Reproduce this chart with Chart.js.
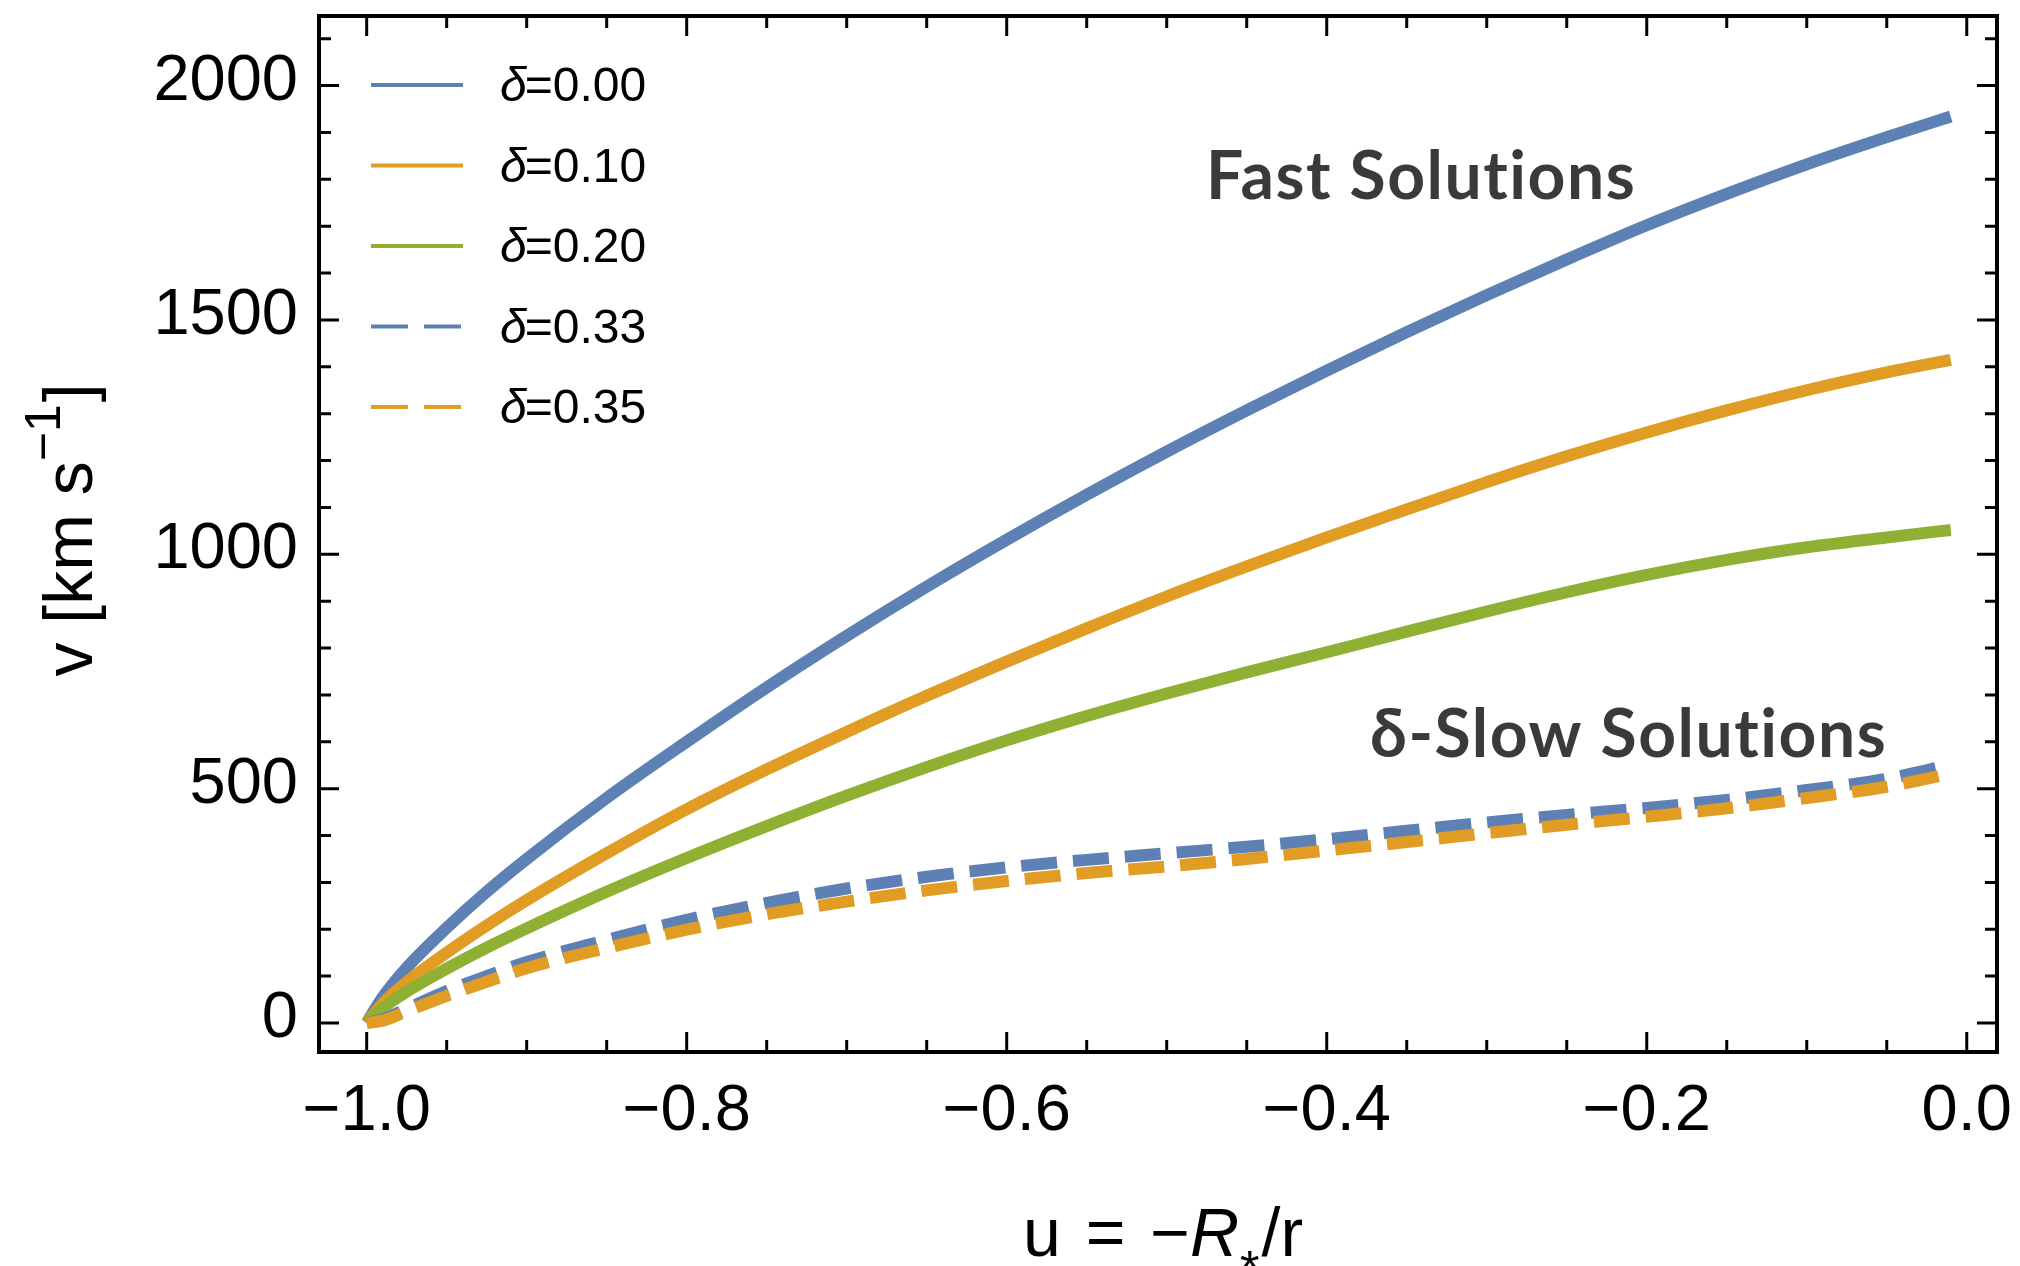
<!DOCTYPE html>
<html><head><meta charset="utf-8">
<script src="https://cdn.jsdelivr.net/npm/chart.js@4.4.1/dist/chart.umd.min.js"></script>
<style>html,body{margin:0;padding:0;background:#fff;overflow:hidden}canvas{display:block}</style>
</head><body>
<canvas id="c" width="2020" height="1266"></canvas>
<script>
// ---- data ----
const uValues   = [-1.0, -0.99, -0.975, -0.95, -0.925, -0.9, -0.85, -0.8, -0.75, -0.7, -0.65, -0.6, -0.55, -0.5, -0.45, -0.4, -0.35, -0.3, -0.25, -0.2, -0.15, -0.1, -0.05, -0.01];
const vDelta000 = [0, 55, 118, 203, 280, 350, 480, 600, 716, 826, 931, 1031, 1127, 1219, 1307, 1392, 1474, 1553, 1629, 1702, 1769, 1832, 1890, 1934];
const vDelta010 = [0, 41, 87, 150, 208, 262, 362, 456, 541, 621, 698, 771, 842, 910, 974, 1036, 1096, 1154, 1209, 1260, 1307, 1350, 1388, 1415];
const vDelta020 = [0, 32, 67, 116, 161, 202, 280, 352, 420, 485, 546, 603, 655, 703, 748, 791, 835, 878, 919, 956, 988, 1015, 1036, 1052];
const vDelta033 = [0, 8, 30, 68, 100, 130, 177, 220, 256, 287, 312, 332, 348, 362, 376, 392, 410, 428, 444, 459, 476, 497, 521, 551];
const vDelta035 = [0, 5, 25, 58, 88, 117, 160, 199, 232, 259, 283, 303, 320, 334, 350, 368, 386, 405, 423, 440, 458, 480, 504, 532];

const seriesLabels = ['δ=0.00', 'δ=0.10', 'δ=0.20', 'δ=0.33', 'δ=0.35'];
const seriesColors = ['#5E81B5', '#E19C24', '#8FB032', '#5E81B5', '#E19C24'];
const seriesDashed = [false, false, false, true, true];

const xTicks      = [-1.0, -0.8, -0.6, -0.4, -0.2, 0.0];
const xTickLabels = ['−1.0', '−0.8', '−0.6', '−0.4', '−0.2', '0.0'];
const xMinorTicks = [-0.95, -0.9, -0.85, -0.75, -0.7, -0.65, -0.55, -0.5, -0.45, -0.35, -0.3, -0.25, -0.15, -0.1, -0.05];
const yTicks      = [0, 500, 1000, 1500, 2000];
const yTickLabels = ['0', '500', '1000', '1500', '2000'];
const yMinorTicks = [100, 200, 300, 400, 600, 700, 800, 900, 1100, 1200, 1300, 1400, 1600, 1700, 1800, 1900, 2100];

const annotationTexts = ['Fast Solutions', 'δ-Slow Solutions'];
const annotationAnchors = [[-0.4754, 1758], [-0.3729, 567]]; // data coords (u, v) of left baseline

// ---- styling ----
const FONT = "'Liberation Sans', Arial, Helvetica, sans-serif";
const TICK_SIZE = 65;

const seriesValues = [vDelta000, vDelta010, vDelta020, vDelta033, vDelta035];
const datasets = seriesValues.map((vals, i) => ({
  label: seriesLabels[i],
  data: uValues.map((u, j) => ({ x: u, y: vals[j] })),
  borderColor: seriesColors[i],
  backgroundColor: seriesColors[i],
  borderWidth: 12,
  borderDash: seriesDashed[i] ? [36, 16] : [],
  borderCapStyle: 'butt',
  borderJoinStyle: 'round',
  pointRadius: 0,
  fill: false,
  cubicInterpolationMode: 'monotone',
  order: seriesValues.length - i
}));

function drawRich(ctx, segs, x, y) {
  let w = 0;
  for (const g of segs) { ctx.font = g.font; w += ctx.measureText(g.t).width + (g.gap || 0); }
  let cx = x - w / 2;
  for (const g of segs) {
    ctx.font = g.font;
    ctx.fillText(g.t, cx, y + (g.dy || 0));
    cx += ctx.measureText(g.t).width + (g.gap || 0);
  }
}

const decor = {
  id: 'decor',
  afterDatasetsDraw(chart) {
    const { ctx, chartArea: a, scales: { x, y } } = chart;
    ctx.save();
    ctx.strokeStyle = '#000';
    ctx.lineCap = 'butt';
    ctx.lineWidth = 3;
    const MAJ = 20, MIN = 12;
    const xt = (v, len) => {
      const px = x.getPixelForValue(v);
      ctx.beginPath();
      ctx.moveTo(px, a.bottom); ctx.lineTo(px, a.bottom - len);
      ctx.moveTo(px, a.top); ctx.lineTo(px, a.top + len);
      ctx.stroke();
    };
    const yt = (v, len) => {
      const py = y.getPixelForValue(v);
      ctx.beginPath();
      ctx.moveTo(a.left, py); ctx.lineTo(a.left + len, py);
      ctx.moveTo(a.right, py); ctx.lineTo(a.right - len, py);
      ctx.stroke();
    };
    xTicks.forEach(v => xt(v, MAJ));
    xMinorTicks.forEach(v => xt(v, MIN));
    yTicks.forEach(v => yt(v, MAJ));
    yMinorTicks.forEach(v => yt(v, MIN));
    ctx.lineWidth = 4;
    ctx.strokeRect(a.left, a.top, a.right - a.left, a.bottom - a.top);
    ctx.restore();
  },
  afterDraw(chart) {
    const { ctx, chartArea: a, scales: { x, y } } = chart;
    ctx.save();
    // legend
    const rowTop = a.top + 69, rowGap = 80.5;
    chart.data.datasets.forEach((ds, i) => {
      const ly = rowTop + i * rowGap;
      ctx.strokeStyle = ds.borderColor;
      ctx.lineWidth = 4;
      ctx.lineCap = 'butt';
      ctx.setLineDash(seriesDashed[i] ? [37, 16] : []);
      ctx.beginPath(); ctx.moveTo(a.left + 52, ly); ctx.lineTo(a.left + 144, ly); ctx.stroke();
      ctx.setLineDash([]);
      ctx.fillStyle = '#000';
      ctx.textBaseline = 'middle';
      ctx.textAlign = 'left';
      const lbl = ds.label;
      ctx.font = 'italic 48px ' + FONT;
      const d = lbl.charAt(0);
      ctx.fillText(d, a.left + 181, ly + 3);
      const dw = ctx.measureText(d).width;
      ctx.font = '48px ' + FONT;
      ctx.fillText(lbl.slice(1), a.left + 181 + dw - 2, ly + 3);
    });
    // annotations
    ctx.fillStyle = '#3a3a3a';
    ctx.textBaseline = 'alphabetic';
    ctx.textAlign = 'left';
    ctx.font = "bold 66px Lato, 'Open Sans', sans-serif";
    ctx.letterSpacing = '1.5px';
    annotationTexts.forEach((t, i) => {
      ctx.fillText(t, x.getPixelForValue(annotationAnchors[i][0]), y.getPixelForValue(annotationAnchors[i][1]));
    });
    ctx.letterSpacing = '0px';
    // axis titles
    ctx.fillStyle = '#000';
    const nf = '68px ' + FONT;
    const itf = 'italic 68px ' + FONT;
    const sf = '50px ' + FONT;
    drawRich(ctx, [
      { t: 'u', font: nf, gap: 6 },
      { t: ' = ', font: nf, gap: 6 },
      { t: '−', font: nf },
      { t: 'R', font: itf, gap: 1 },
      { t: '*', font: sf, dy: 30, gap: 2 },
      { t: '/r', font: nf }
    ], (a.left + a.right) / 2 + 5, 1256);
    ctx.translate(92, (a.top + a.bottom) / 2 - 4);
    ctx.rotate(-Math.PI / 2);
    drawRich(ctx, [
      { t: 'v [km s', font: nf },
      { t: '−1', font: sf, dy: -32, gap: 2 },
      { t: ']', font: nf }
    ], 0, 0);
    ctx.restore();
  }
};

new Chart(document.getElementById('c'), {
  type: 'line',
  data: { datasets },
  options: {
    responsive: false,
    animation: false,
    devicePixelRatio: 1,
    layout: { padding: { top: 16, right: 23, left: 0, bottom: 0 } },
    plugins: { legend: { display: false }, tooltip: { enabled: false } },
    scales: {
      x: {
        type: 'linear',
        min: -1.0298, max: 0.0189,
        afterBuildTicks: s => { s.ticks = xTicks.map(v => ({ value: v })); },
        afterFit: s => { s.height = 214; s.paddingLeft = 0; s.paddingRight = 0; },
        grid: { display: false, drawTicks: false },
        border: { display: false },
        ticks: {
          autoSkip: false, maxRotation: 0, padding: 21,
          color: '#000', font: { family: FONT, size: TICK_SIZE },
          callback: (v, i) => xTickLabels[i]
        }
      },
      y: {
        type: 'linear',
        min: -61.9, max: 2148.5,
        afterBuildTicks: s => { s.ticks = yTicks.map(v => ({ value: v })); },
        afterFit: s => { s.width = 319; s.paddingTop = 0; s.paddingBottom = 0; },
        grid: { display: false, drawTicks: false },
        border: { display: false },
        ticks: {
          autoSkip: false, padding: 21, labelOffset: -4,
          color: '#000', font: { family: FONT, size: TICK_SIZE },
          callback: (v, i) => yTickLabels[i]
        }
      }
    }
  },
  plugins: [decor]
});
</script>
</body></html>
